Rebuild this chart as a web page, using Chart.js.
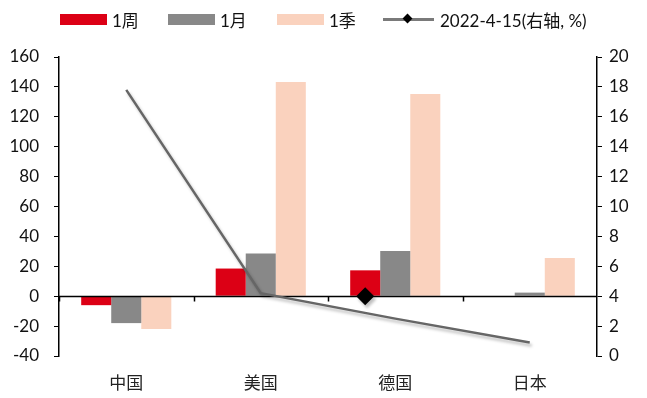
<!doctype html>
<html lang="zh">
<head>
<meta charset="utf-8">
<title>主要经济体 涨跌幅</title>
<script src="https://cdn.jsdelivr.net/npm/chart.js"></script>
<style>
  html, body { margin: 0; padding: 0; background: #fff; }
  #wrap { position: relative; width: 647px; height: 398px; }
  #legend {
    position: absolute; left: 0; top: 9px; width: 647px; height: 20px;
    font: 17px Lato, "Noto Sans CJK SC", sans-serif; color: #111;
  }
  .item { position: absolute; top: 0; height: 20px; display: flex; align-items: center; white-space: nowrap; }
  .box { width: 47px; height: 11px; margin-right: 5px; }
  .lineKey { position: relative; width: 51px; height: 11px; margin-right: 6px; }
  .lineKey::before { content: ""; position: absolute; left: 0; right: 0; top: 4px; height: 3px; background: #7a7a7a; }
  .lineKey::after { content: ""; position: absolute; left: 21px; top: 1px; width: 7px; height: 7px; background: #000; transform: rotate(45deg); }
</style>
</head>
<body>
<div id="wrap">
  <canvas id="chart" width="647" height="398"></canvas>
  <div id="legend"></div>
</div>
<script>
  // categories and series
  const categories = ['中国', '美国', '德国', '日本'];
  const barNames = ['1周', '1月', '1季'];
  const week = [-6, 18.5, 17.3, 0];
  const month = [-18, 28.5, 30.2, 2.4];
  const quarter = [-22, 143.3, 135.3, 25.5];
  const lineName = '2022-4-15(右轴, %)';
  const lineValues = [17.8, 4.2, 2.5, 0.9];
  // lone diamond marker on the right axis, sitting on the 德国 1周 bar
  const markerCategory = 2;
  const markerValue = 4;

  const barColors = ['#dc0015', '#888888', '#fad2be'];
  const lineColor = '#666666';

  // legend
  const legendLeft = [60, 168, 277, 383];
  const legend = document.getElementById('legend');
  barNames.forEach((name, i) => {
    legend.insertAdjacentHTML('beforeend',
      `<div class="item" style="left:${legendLeft[i]}px"><span class="box" style="background:${barColors[i]}"></span>${name}</div>`);
  });
  legend.insertAdjacentHTML('beforeend',
    `<div class="item" style="left:${legendLeft[3]}px"><span class="lineKey"></span>${lineName}</div>`);

  const numFont = { family: 'Lato, sans-serif', size: 17 };

  const withShadow = (ctx) => {
    ctx.shadowColor = 'rgba(0,0,0,0.25)';
    ctx.shadowBlur = 3;
    ctx.shadowOffsetX = 2;
    ctx.shadowOffsetY = 3;
  };

  // x axis through zero, drop shadow on the line, diamond marker
  const decorations = {
    id: 'decorations',
    beforeDatasetDraw(chart, args) {
      if (args.index !== 3) return;
      const { ctx, chartArea, scales } = chart;
      const y0 = Math.round(scales.y.getPixelForValue(0)) + 0.5;
      const step = scales.x.getPixelForValue(1) - scales.x.getPixelForValue(0);
      ctx.save();
      ctx.strokeStyle = '#000';
      ctx.lineWidth = 1.5;
      ctx.beginPath();
      ctx.moveTo(chartArea.left, y0);
      ctx.lineTo(chartArea.right, y0);
      for (let i = 0; i < categories.length; i++) {
        const x = Math.round(scales.x.getPixelForValue(i) - step / 2) + 0.5;
        ctx.moveTo(x, y0);
        ctx.lineTo(x, y0 + 5);
      }
      ctx.stroke();
      ctx.restore();
      ctx.save();
      withShadow(ctx);
    },
    afterDatasetDraw(chart, args) {
      if (args.index !== 3) return;
      const ctx = chart.ctx;
      ctx.restore();
      const bar = chart.getDatasetMeta(0).data[markerCategory];
      const x = bar.x;
      const y = chart.scales.y1.getPixelForValue(markerValue);
      const r = 9;
      ctx.save();
      withShadow(ctx);
      ctx.fillStyle = '#000';
      ctx.beginPath();
      ctx.moveTo(x, y - r);
      ctx.lineTo(x + r, y);
      ctx.lineTo(x, y + r);
      ctx.lineTo(x - r, y);
      ctx.closePath();
      ctx.fill();
      ctx.restore();
    }
  };

  new Chart(document.getElementById('chart'), {
    type: 'bar',
    data: {
      labels: categories,
      datasets: [
        { label: barNames[0], data: week, backgroundColor: barColors[0], order: 1 },
        { label: barNames[1], data: month, backgroundColor: barColors[1], order: 1 },
        { label: barNames[2], data: quarter, backgroundColor: barColors[2], order: 1 },
        {
          type: 'line', label: lineName, data: lineValues, yAxisID: 'y1',
          borderColor: lineColor, borderWidth: 2.5, pointRadius: 0, tension: 0, order: 0
        }
      ]
    },
    options: {
      responsive: false,
      animation: false,
      layout: { padding: { top: 57, left: 0, right: 0, bottom: 0 } },
      datasets: { bar: { categoryPercentage: 0.67, barPercentage: 1 } },
      plugins: { legend: { display: false }, tooltip: { enabled: false } },
      scales: {
        x: {
          type: 'category',
          offset: true,
          grid: { display: false, drawTicks: false },
          border: { display: false },
          ticks: { color: '#222', padding: 16, font: { family: '"Noto Sans CJK SC"', size: 17 } },
          afterFit(s) { s.height = 42; }
        },
        y: {
          position: 'left', min: -40, max: 160,
          ticks: { stepSize: 20, color: '#111', padding: 15, font: numFont },
          grid: { drawOnChartArea: false, tickLength: 5, color: '#000' },
          border: { color: '#000', width: 1.5 },
          afterFit(s) { s.width = 59; }
        },
        y1: {
          position: 'right', min: 0, max: 20,
          ticks: { stepSize: 2, color: '#111', padding: 7, font: numFont },
          grid: { drawOnChartArea: false, tickLength: 5, color: '#000' },
          border: { color: '#000', width: 1.5 },
          afterFit(s) { s.width = 50; }
        }
      }
    },
    plugins: [decorations]
  });
</script>
</body>
</html>
